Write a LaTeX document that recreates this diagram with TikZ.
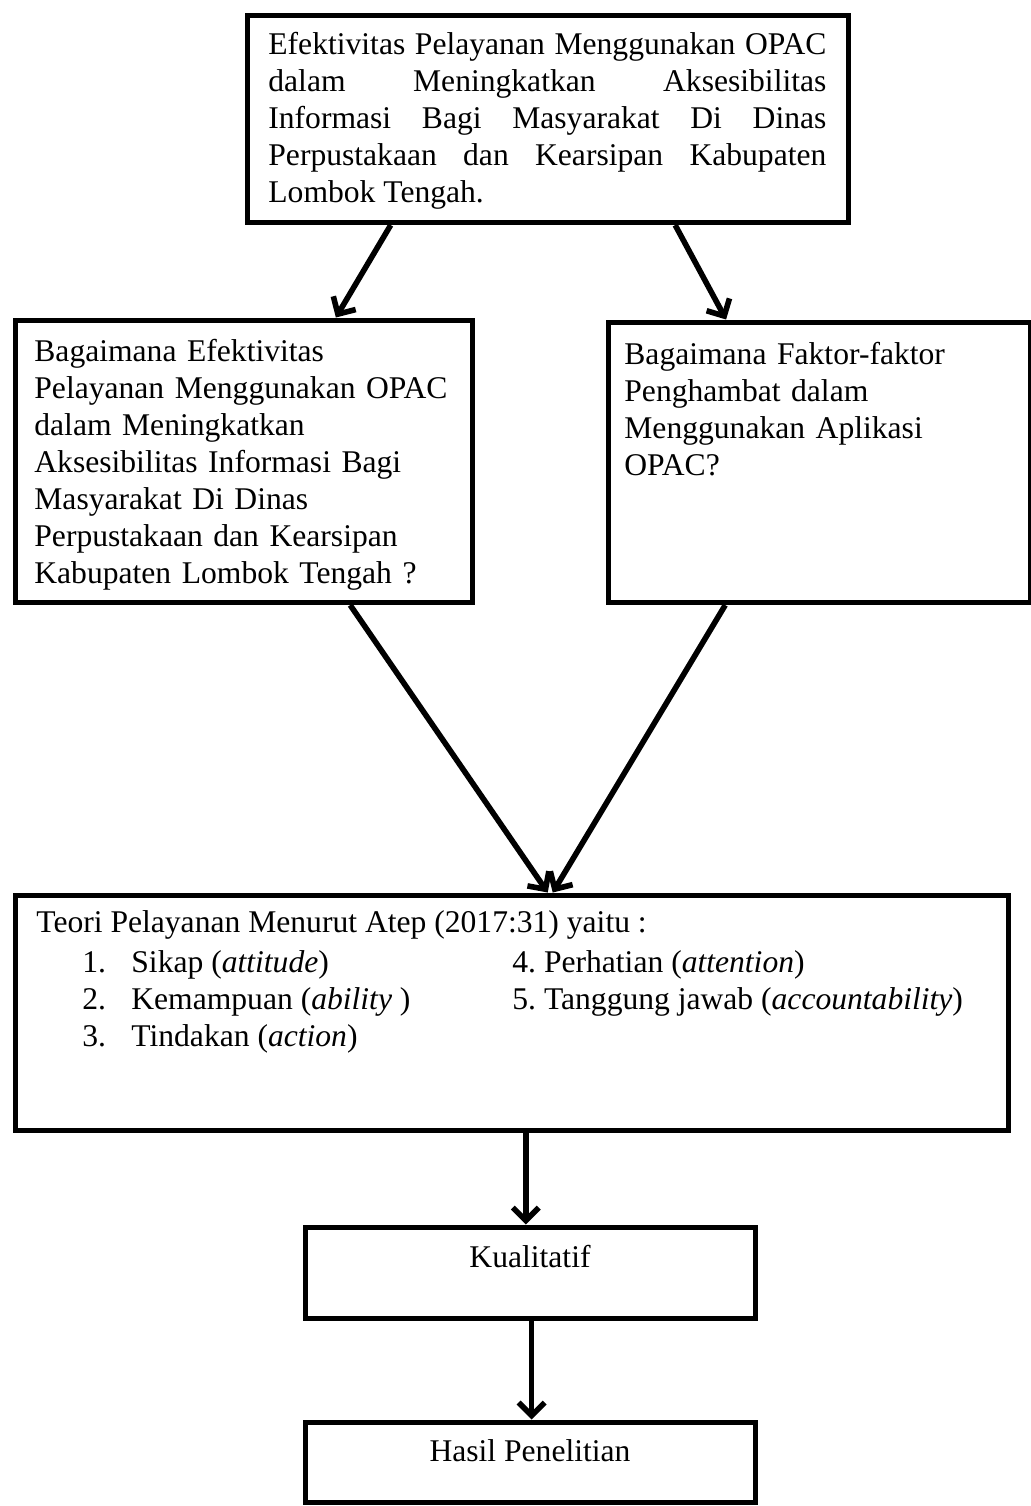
\documentclass[tikz,border=0pt]{standalone}
\usepackage{fontspec}
\setmainfont{Liberation Serif}
\usetikzlibrary{arrows.meta,calc}
\begin{document}
\frenchspacing
\begin{tikzpicture}[x=0.5pt,y=-0.5pt,
  box/.style={draw=black,line width=2.8pt,inner sep=0pt,anchor=north west},
  txt/.style={inner sep=0pt,anchor=base west,font=\fontsize{15.8pt}{18.5pt}\selectfont},
  conn/.style={line width=2.8pt,-{Straight Barb[length=6.5pt,width=13pt]}}]
\useasboundingbox (0,0) rectangle (1030,1506);
\fill[white] (0,0) rectangle (1030,1506);
% boxes
\node[box,minimum width=300.5pt,minimum height=103.5pt] (top) at (244.5,12.5) {};
\node[box,minimum width=228.5pt,minimum height=141pt] (B) at (12.5,317.5) {};
\node[box,minimum width=211pt,minimum height=140pt] (C) at (605.5,319.5) {};
\node[box,minimum width=496.5pt,minimum height=117.5pt] (D) at (12.5,892.5) {};
\node[box,minimum width=225pt,minimum height=45.5pt] (K) at (302.5,1224.5) {};
\node[box,minimum width=225pt,minimum height=40pt] (H) at (302.5,1419.5) {};
% texts
\node[txt,text width=279pt,align=justify] (toptext) at (268,54) {Efektivitas Pelayanan Menggunakan OPAC\linebreak dalam Meningkatkan Aksesibilitas\linebreak Informasi Bagi Masyarakat Di Dinas\linebreak Perpustakaan dan Kearsipan Kabupaten\linebreak Lombok Tengah.};
\node[txt,text width=225pt,align=left] (Btext) at (34,361) {Bagaimana Efektivitas\\ Pelayanan Menggunakan OPAC\\ dalam Meningkatkan\\ Aksesibilitas Informasi Bagi\\ Masyarakat Di Dinas\\ Perpustakaan dan Kearsipan\\ Kabupaten Lombok Tengah ?};
\node[txt,text width=200pt,align=left] (Ctext) at (624,364) {Bagaimana Faktor-faktor\\ Penghambat dalam\\ Menggunakan Aplikasi\\ OPAC?};
\node[txt] (Dtitle) at (36,932) {Teori Pelayanan Menurut Atep (2017:31) yaitu :};
\node[txt] (n1) at (82,972) {1.};
\node[txt] (i1) at (131,972) {Sikap (\textit{attitude})};
\node[txt] (n2) at (82,1009) {2.};
\node[txt] (i2) at (131,1009) {Kemampuan (\textit{ability} )};
\node[txt] (n3) at (82,1046) {3.};
\node[txt] (i3) at (131,1046) {Tindakan (\textit{action})};
\node[txt] (i4) at (512,972) {4. Perhatian (\textit{attention})};
\node[txt] (i5) at (512,1009) {5. Tanggung jawab (\textit{accountability})};
\node[txt,anchor=base] (Ktext) at (530,1267) {Kualitatif};
\node[txt,anchor=base] (Htext) at (530,1461) {Hasil Penelitian};
% connectors
\draw[conn] ($(top.south west)!0.241!(top.south east)$) -- ($(B.north west)!0.699!(B.north east)$);
\draw[conn] ($(top.south west)!0.71!(top.south east)$) -- ($(C.north west)!0.282!(C.north east)$);
\draw[conn] ($(B.south west)!0.73!(B.south east)$) -- ($(D.north west)!0.536!(D.north east)$);
\draw[conn] ($(C.south west)!0.28!(C.south east)$) -- ($(D.north west)!0.541!(D.north east)$);
\coordinate (dk) at ($(D.south west)!0.514!(D.south east)$);
\draw[conn] (dk) -- (dk |- K.north);
\coordinate (kh) at ($(K.south west)!0.503!(K.south east)$);
\draw[conn] (kh) -- (kh |- H.north);
\end{tikzpicture}
\end{document}
